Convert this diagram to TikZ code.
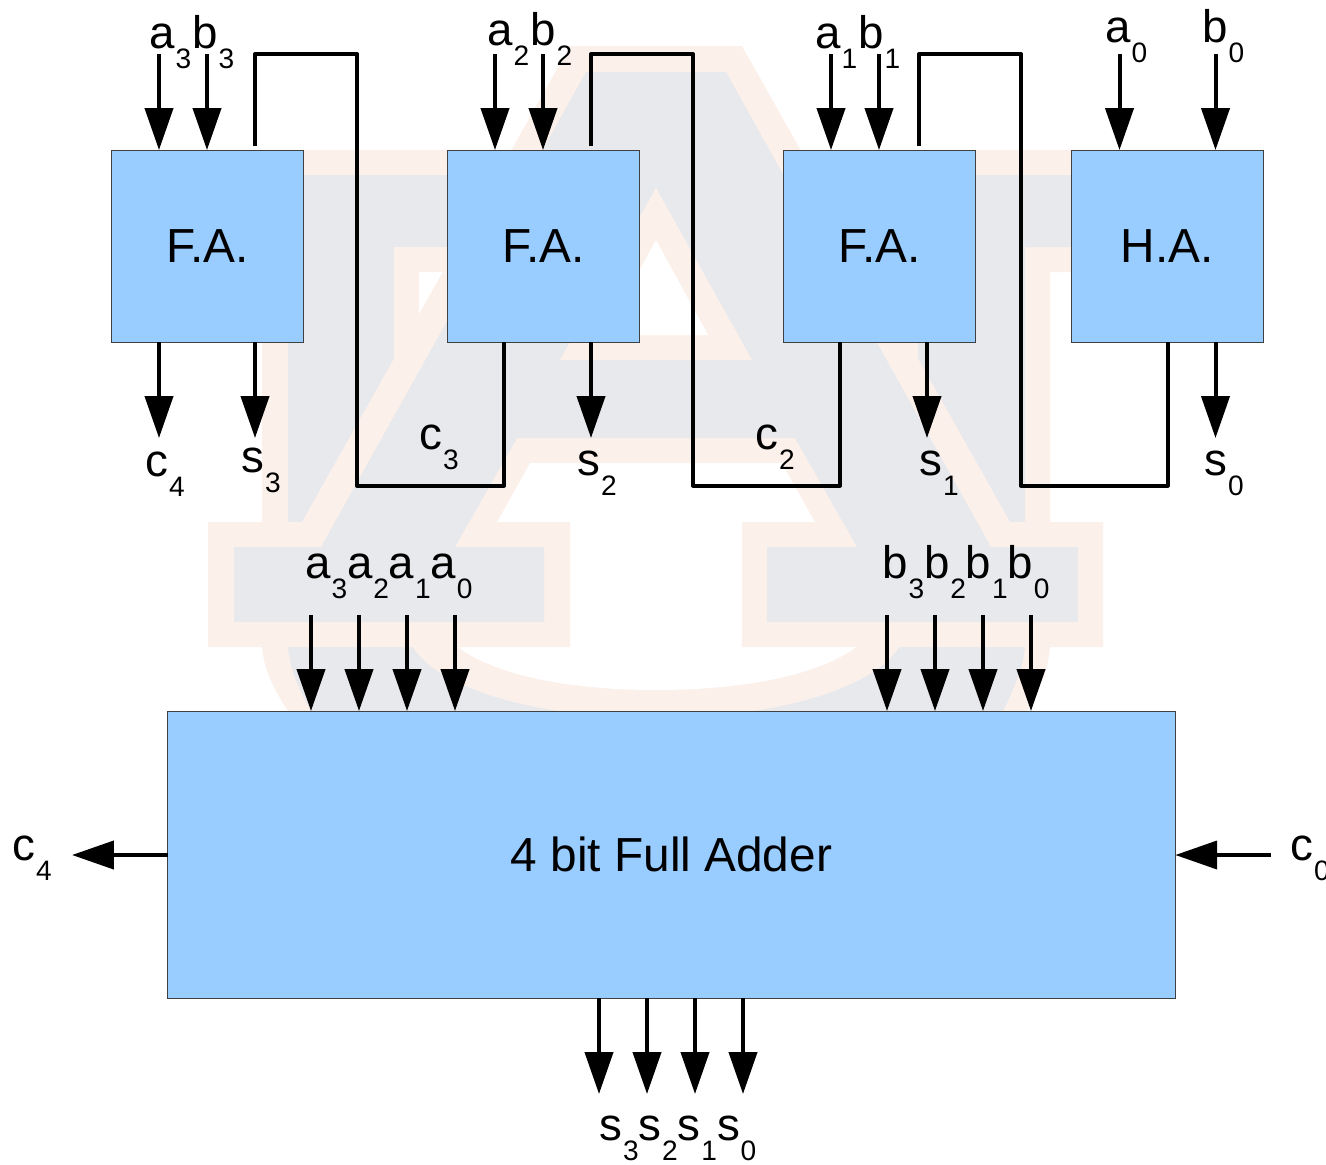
\documentclass[tikz,border=0pt]{standalone}
\usepackage{fontspec}
\setmainfont{Liberation Sans}
\usepackage{xcolor}
\usetikzlibrary{arrows.meta}
\definecolor{wmorange}{HTML}{FCF0EA}
\definecolor{wmgrey}{HTML}{E8E9ED}
\definecolor{blockblue}{HTML}{99CCFF}
\newcommand{\sublab}[2]{#1\kern0.4pt\raisebox{-11.6pt}{\fontsize{16}{18}\selectfont #2}}
\tikzstyle{block} = [rectangle, minimum width=3.84cm, minimum height=3.84cm, inner sep=0pt, outer sep=0pt, text centered, draw=black!75, line width=0.5pt, fill=blockblue, font=\fontsize{27.2}{30}\selectfont]
\tikzstyle{lab} = [inner sep=0pt, outer sep=0pt, anchor=base west, font=\fontsize{26}{30}\selectfont]
\tikzset{
  arrow/.style={line width=2.27pt,-{Triangle[length=23.8pt,width=15.9pt]}},
  wire/.style={line width=2.27pt,line join=round},
}
\begin{document}
\begin{tikzpicture}[x=0.02cm, y=-0.02cm, node distance=6.72cm]
\useasboundingbox (0,0) rectangle (1326,1164);
% logo behind the circuit
\fill [wmorange] (208,150) -- (1104,150) -- (1104,272) -- (1050,272) -- (1050,647) .. controls (1048,670) and (1040,690) .. (1027,711) -- (1027,730) -- (288,730) -- (288,711) .. controls (274,690) and (264,670) .. (262,647) -- (262,272) -- (208,272) -- cycle;
\fill [wmgrey] (233,175) -- (1079,175) -- (1079,247) -- (1025,247) -- (1025,647) .. controls (1023,670) and (1013,690) .. (1003,711) -- (1003,730) -- (311,730) -- (311,711) .. controls (299,690) and (290,670) .. (288,647) -- (288,247) -- (233,247) -- cycle;
\fill [wmorange] (394,247) -- (918,247) -- (918,600) -- (899,647) .. controls (872,690) and (772,718) .. (656,718) .. controls (540,718) and (440,690) .. (413,647) -- (394,600) -- cycle;
\fill [white] (419,272) -- (893,272) -- (893,600) -- (856,647) .. controls (824,672) and (752,690) .. (656,690) .. controls (560,690) and (490,672) .. (458,647) -- (419,600) -- cycle;
\fill [wmorange] (570,46) -- (742,46) -- (1010,522) -- (1103,522) -- (1103,647) -- (742,647) -- (742,522) -- (815,522) -- (782,463) -- (530,463) -- (497,522) -- (570,522) -- (570,647) -- (208,647) -- (208,522) -- (302,522) -- cycle;
\fill [wmgrey] (586,72) -- (726,72) -- (991,547) -- (1078,547) -- (1078,622) -- (767,622) -- (767,547) -- (857,547) -- (795,438) -- (517,438) -- (455,547) -- (544,547) -- (544,622) -- (234,622) -- (234,547) -- (321,547) -- cycle;
\fill [wmorange] (656,188) -- (752,360) -- (560,360) -- cycle;
\fill [white] (656,240) -- (708,335) -- (604,335) -- cycle;

\node (fa3) [block] at (207.4,246) {F.A.};
\node (fa2) [block, right of=fa3] {F.A.};
\node (fa1) [block, right of=fa2] {F.A.};
\node (ha) [block, right of=fa1, node distance=5.76cm] {H.A.};
\node (adder) [block, minimum width=20.16cm, minimum height=5.74cm] at (671.4,854.5) {4 bit Full Adder};

\node (a3) [lab] at (149.5,48) {\sublab{a}{3}};
\node (b3) [lab] at (192.5,48) {\sublab{b}{3}};
\node (a2) [lab] at (487.5,45) {\sublab{a}{2}};
\node (b2) [lab] at (530.5,45) {\sublab{b}{2}};
\node (a1) [lab] at (815.5,48) {\sublab{a}{1}};
\node (b1) [lab] at (858.5,48) {\sublab{b}{1}};
\node (a0) [lab] at (1105.5,42) {\sublab{a}{0}};
\node (b0) [lab] at (1202.5,42) {\sublab{b}{0}};
\node (c4) [lab] at (145.5,476) {\sublab{c}{4}};
\node (s3) [lab] at (241.5,472) {\sublab{s}{3}};
\node (c3) [lab] at (419.5,449) {\sublab{c}{3}};
\node (s2) [lab] at (577.5,475) {\sublab{s}{2}};
\node (c2) [lab] at (755.5,449) {\sublab{c}{2}};
\node (s1) [lab] at (919.5,475) {\sublab{s}{1}};
\node (s0) [lab] at (1204.5,475) {\sublab{s}{0}};
\node (abus) [lab] at (305.5,578) {\sublab{a}{3}\sublab{a}{2}\sublab{a}{1}\sublab{a}{0}};
\node (bbus) [lab] at (882.5,578) {\sublab{b}{3}\sublab{b}{2}\sublab{b}{1}\sublab{b}{0}};
\node (sbus) [lab] at (599.5,1140) {\sublab{s}{3}\sublab{s}{2}\sublab{s}{1}\sublab{s}{0}};
\node (cout) [lab] at (12.5,860) {\sublab{c}{4}};
\node (cin) [lab] at (1290.5,860) {\sublab{c}{0}};

\coordinate (a3top) at (159,54);
\coordinate (b3top) at (207,54);
\coordinate (a2top) at (495,54);
\coordinate (b2top) at (543,54);
\coordinate (a1top) at (831,54);
\coordinate (b1top) at (879,54);
\coordinate (a0top) at (1119.5,54);
\coordinate (b0top) at (1215.5,54);
\coordinate (c4end) at (159,438);
\coordinate (s3end) at (255,438);
\coordinate (s2end) at (591,438);
\coordinate (s1end) at (927,438);
\coordinate (s0end) at (1215.5,438);
\draw [arrow] (a3top) -- (a3top |- fa3.north);
\draw [arrow] (b3top) -- (b3top |- fa3.north);
\draw [arrow] (a2top) -- (a2top |- fa2.north);
\draw [arrow] (b2top) -- (b2top |- fa2.north);
\draw [arrow] (a1top) -- (a1top |- fa1.north);
\draw [arrow] (b1top) -- (b1top |- fa1.north);
\draw [arrow] (a0top) -- (a0top |- ha.north);
\draw [arrow] (b0top) -- (b0top |- ha.north);
\draw [arrow] (c4end |- fa3.south) -- (c4end);
\draw [arrow] (s3end |- fa3.south) -- (s3end);
\draw [arrow] (s2end |- fa2.south) -- (s2end);
\draw [arrow] (s1end |- fa1.south) -- (s1end);
\draw [arrow] (s0end |- ha.south) -- (s0end);

\coordinate (c3from) at (504,342);
\coordinate (c3turn) at (357,485.5);
\coordinate (c3top) at (255,54);
\coordinate (c3to) at (255,146);
\coordinate (c2from) at (840,342);
\coordinate (c2turn) at (693,485.5);
\coordinate (c2top) at (591,54);
\coordinate (c2to) at (591,146);
\coordinate (c1from) at (1167.5,342);
\coordinate (c1turn) at (1021,485.5);
\coordinate (c1top) at (919,54);
\coordinate (c1to) at (919,146);
\draw [wire] (c3from) |- (c3turn) |- (c3top) -- (c3to);
\draw [wire] (c2from) |- (c2turn) |- (c2top) -- (c2to);
\draw [wire] (c1from) |- (c1turn) |- (c1top) -- (c1to);

\coordinate (ain3) at (311,615);
\coordinate (ain2) at (359,615);
\coordinate (ain1) at (407,615);
\coordinate (ain0) at (455,615);
\coordinate (bin3) at (887,615);
\coordinate (bin2) at (935,615);
\coordinate (bin1) at (983,615);
\coordinate (bin0) at (1031,615);
\coordinate (sout3) at (599,1094);
\coordinate (sout2) at (647,1094);
\coordinate (sout1) at (695,1094);
\coordinate (sout0) at (743,1094);
\coordinate (coutend) at (72,855);
\coordinate (cinstart) at (1271,855);
\draw [arrow] (ain3) -- (ain3 |- adder.north);
\draw [arrow] (ain2) -- (ain2 |- adder.north);
\draw [arrow] (ain1) -- (ain1 |- adder.north);
\draw [arrow] (ain0) -- (ain0 |- adder.north);
\draw [arrow] (bin3) -- (bin3 |- adder.north);
\draw [arrow] (bin2) -- (bin2 |- adder.north);
\draw [arrow] (bin1) -- (bin1 |- adder.north);
\draw [arrow] (bin0) -- (bin0 |- adder.north);
\draw [arrow] (sout3 |- adder.south) -- (sout3);
\draw [arrow] (sout2 |- adder.south) -- (sout2);
\draw [arrow] (sout1 |- adder.south) -- (sout1);
\draw [arrow] (sout0 |- adder.south) -- (sout0);
\draw [arrow] (adder.west |- coutend) -- (coutend);
\draw [arrow] (cinstart) -- (adder.east |- cinstart);
\end{tikzpicture}
\end{document}
